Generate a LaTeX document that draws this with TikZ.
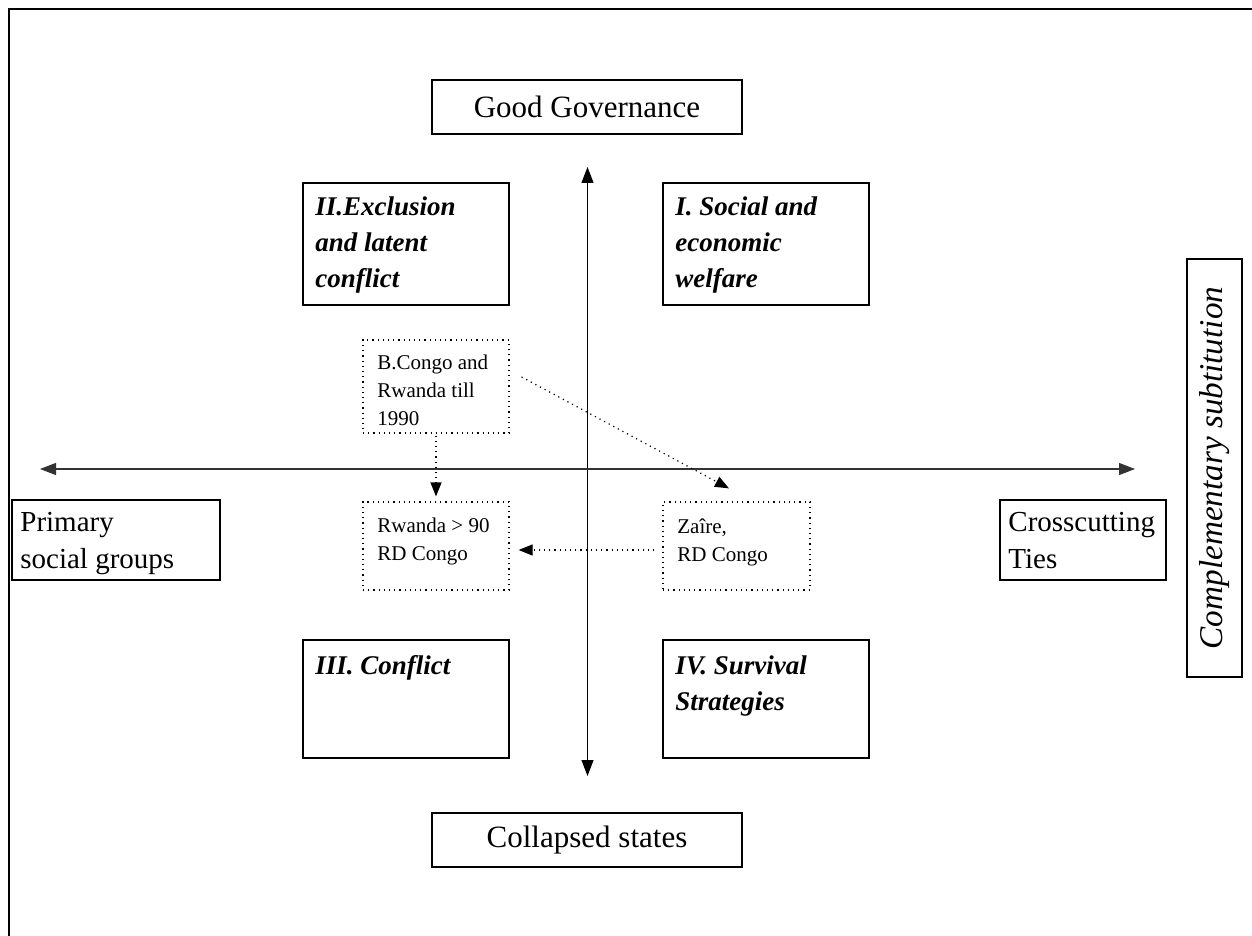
\documentclass[tikz,border=0pt]{standalone}
\usepackage{fontspec}
\setmainfont{Liberation Serif}
\usetikzlibrary{arrows.meta}
\begin{document}
\begin{tikzpicture}[x=0.5pt,y=-0.5pt,
  box/.style={draw, line width=0.7pt, inner sep=0pt},
  dotbox/.style={draw, dotted, line width=0.6pt, inner sep=0pt},
  axis/.style={line width=0.6pt, {Triangle[length=8pt,width=6pt]}-{Triangle[length=8pt,width=6pt]}},
  darrow/.style={dotted, line width=0.6pt, -{Triangle[length=7pt,width=5.5pt]}},
  big/.style={font=\fontsize{15.5}{18.6}\selectfont},
  side/.style={font=\fontsize{14.5}{18.5}\selectfont, align=left, anchor=north west, inner sep=0pt},
  quad/.style={font=\fontsize{13.5}{18}\selectfont\bfseries\itshape, align=left, anchor=north west, inner sep=0pt},
  small/.style={font=\fontsize{10.5}{14}\selectfont, align=left, anchor=north west, inner sep=0pt},
]
\useasboundingbox (0,0) rectangle (1252,936);
\fill[white] (0,0) rectangle (1252,936);

% page frame (top and left edges)
\draw[line width=0.8pt] (9,936) -- (9,9) -- (1252,9);

% axes
\coordinate (vt) at (587.5,167);
\coordinate (vb) at (587.5,776);
\coordinate (hl) at (40,469);
\coordinate (hr) at (1135,469);
\draw[axis] (vt) -- (vb);
\draw[axis, draw=black!80] (hl) -- (hr);

% axis ends
\node[box, big, minimum width=155pt, minimum height=27pt] (gg) at (587,107) {Good Governance};
\node[box, big, minimum width=155pt, minimum height=27pt] (cs) at (587,840) {Collapsed states};

\node[box, minimum width=104pt, minimum height=40pt] (ps) at (116,540) {};
\node[side] (pst) at (20,512) {Primary\\social groups};
\node[box, minimum width=83pt, minimum height=40pt] (ct) at (1083,540) {};
\node[side] (ctt) at (1008,512) {Crosscutting\\Ties};

\node[box, minimum width=27.5pt, minimum height=209pt] (cx) at (1214.5,468) {};
\node[font=\fontsize{16.6}{19}\selectfont\itshape, rotate=90] (cxt) at (cx) {Complementary subtitution};

% quadrants
\node[box, minimum width=103pt, minimum height=61pt] (q2) at (406,244) {};
\node[quad] (q2t) at (315,196) {II.Exclusion\\and latent\\conflict};
\node[box, minimum width=103pt, minimum height=61pt] (q1) at (766,244) {};
\node[quad] (q1t) at (675,196) {I. Social and\\economic\\welfare};
\node[box, minimum width=103pt, minimum height=59pt] (q3) at (406,699) {};
\node[quad] (q3t) at (315,655) {III. Conflict};
\node[box, minimum width=103pt, minimum height=59pt] (q4) at (766,699) {};
\node[quad] (q4t) at (675,655) {IV. Survival\\Strategies};

% cases
\node[dotbox, minimum width=73pt, minimum height=46.5pt] (bc) at (436,386.5) {};
\node[small] (bct) at (377,355) {B.Congo and\\Rwanda till\\1990};
\node[dotbox, minimum width=73pt, minimum height=44pt] (rw) at (436,546) {};
\node[small] (rwt) at (377,518) {Rwanda > 90\\RD Congo};
\node[dotbox, minimum width=73.5pt, minimum height=44pt] (zr) at (736.5,546) {};
\node[small] (zrt) at (677,518) {Zaîre,\\RD Congo};

% transitions
\draw[darrow, shorten <=1pt, shorten >=2.5pt] (bc.south) -- (rw.north);
\draw[darrow] ([yshift=-2pt,xshift=-4pt]zr.west) -- ([yshift=-2pt,xshift=4.5pt]rw.east);
\draw[darrow] ([xshift=6pt,yshift=4.75pt]bc.east) -- ([xshift=-3.75pt,yshift=6.5pt]zr.north);
\end{tikzpicture}
\end{document}
